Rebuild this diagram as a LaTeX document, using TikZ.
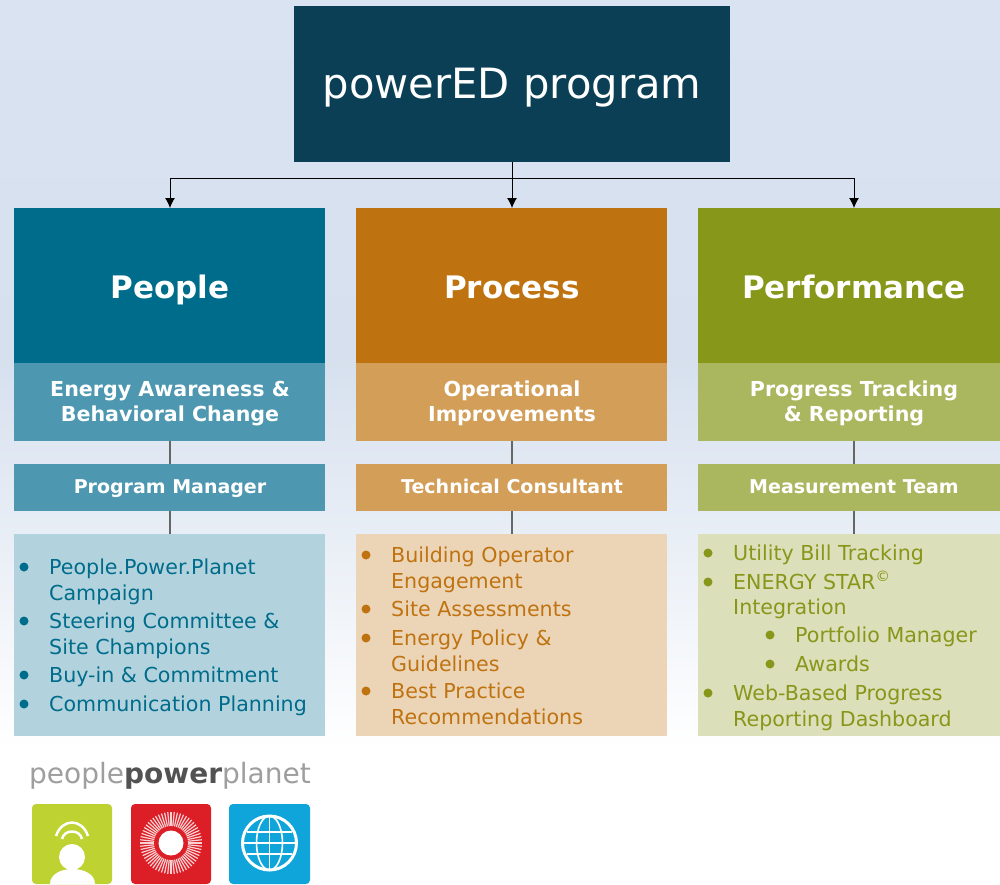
\documentclass[tikz,border=0pt]{standalone}
\usepackage{fontspec}
\setmainfont{DejaVu Sans}
\usetikzlibrary{arrows.meta,calc}
\definecolor{navy}{HTML}{0A3F55}
\definecolor{tealA}{HTML}{006C8B}
\definecolor{tealB}{HTML}{4D98B0}
\definecolor{tealC}{HTML}{B2D3DD}
\definecolor{orgA}{HTML}{BF7310}
\definecolor{orgB}{HTML}{D29E58}
\definecolor{orgC}{HTML}{ECD5B7}
\definecolor{grnA}{HTML}{879719}
\definecolor{grnB}{HTML}{ABB75E}
\definecolor{grnC}{HTML}{DBDFBA}
\definecolor{bgtop}{HTML}{D9E3F1}
\definecolor{bgmid}{HTML}{D6E0EE}
\definecolor{logogrn}{HTML}{BED232}
\definecolor{logored}{HTML}{DC1F26}
\definecolor{logoblu}{HTML}{10A5DA}
\pgfdeclareverticalshading{bgshade}{100bp}{color(0bp)=(white); color(25bp)=(white); color(32.6bp)=(white); color(54.9bp)=(bgmid); color(75bp)=(bgtop); color(100bp)=(bgtop)}
\tikzset{
  x=1pt,y=-1pt,
  box/.style={rectangle,inner sep=0pt,outer sep=0pt,minimum width=311pt,anchor=north west},
  head/.style={box,minimum height=155pt},
  headtxt/.style={anchor=base,text=white,font=\fontsize{31}{38}\selectfont\bfseries},
  sub/.style={box,minimum height=78pt},
  subtxt/.style={anchor=base,text=white,align=center,font=\fontsize{20.6}{25}\selectfont\bfseries},
  role/.style={box,minimum height=47pt},
  roletxt/.style={anchor=base,text=white,font=\fontsize{19}{23}\selectfont\bfseries},
  list/.style={box,minimum height=202pt},
  li/.style={anchor=base west,inner sep=0pt,font=\fontsize{20.6}{25}\selectfont},
  dot/.style={circle,inner sep=0pt,minimum size=9pt},
  conn/.style={draw=black,line width=1pt},
  arr/.style={conn,-{Latex[length=10pt,width=10pt]}},
  tie/.style={draw=black!60,line width=1.2pt},
}
\newcommand{\bitem}[6]{% name, colour, dot x, text x, baseline, text
  \node[dot,fill=#2] (#1d) at (#3,#5-7) {};
  \node[li,text=#2] (#1) at (#4,#5) {#6};
}
\newcommand{\cont}[5]{\node[li,text=#2] (#1) at (#3,#4) {#5};}
\begin{document}
\begin{tikzpicture}
\useasboundingbox (0,0) rectangle (1000,884);
\shade[shading=bgshade] (0,0) rectangle (1000,884);
\node[box,fill=navy,minimum width=436pt,minimum height=156pt] (top) at (294,6) {};
\node[anchor=base,text=white,font=\fontsize{41.7}{50}\selectfont] (topt) at (512,98) {powerED program};
% heads
\node[head,fill=tealA] (h1) at (14,208) {};
\node[head,fill=orgA] (h2) at (356,208) {};
\node[head,fill=grnA,minimum width=302pt] (h3) at (698,208) {};
\node[headtxt] (h1t) at (170,298) {People};
\node[headtxt] (h2t) at (512,298) {Process};
\node[headtxt] (h3t) at (854,298) {Performance};
% subs
\node[sub,fill=tealB] (s1) at (14,363) {};
\node[sub,fill=orgB] (s2) at (356,363) {};
\node[sub,fill=grnB,minimum width=302pt] (s3) at (698,363) {};
\node[subtxt] (s1t) at (170,421) {Energy Awareness \&\\Behavioral Change};
\node[subtxt] (s2t) at (512,421) {Operational\\Improvements};
\node[subtxt] (s3t) at (854,421) {Progress Tracking\\\&~Reporting};
% roles
\node[role,fill=tealB] (r1) at (14,464) {};
\node[role,fill=orgB] (r2) at (356,464) {};
\node[role,fill=grnB,minimum width=302pt] (r3) at (698,464) {};
\node[roletxt] (r1t) at (170,493) {Program Manager};
\node[roletxt] (r2t) at (512,493) {Technical Consultant};
\node[roletxt] (r3t) at (854,493) {Measurement Team};
% lists
\node[list,fill=tealC] (l1) at (14,534) {};
\node[list,fill=orgC] (l2) at (356,534) {};
\node[list,fill=grnC,minimum width=302pt] (l3) at (698,534) {};
% connectors
\coordinate (bus) at (512,178);
\draw[conn] (top.south -| h2t.center) -- (bus);
\draw[arr] (bus) -- (h2t.center |- h2.north);
\draw[arr] (bus) -| (h1t.center |- h1.north);
\draw[arr] (bus) -| (h3t.center |- h3.north);
\draw[tie] (h1t.center |- s1.south) -- (h1t.center |- r1.north);
\draw[tie] (h1t.center |- r1.south) -- (h1t.center |- l1.north);
\draw[tie] (h2t.center |- s2.south) -- (h2t.center |- r2.north);
\draw[tie] (h2t.center |- r2.south) -- (h2t.center |- l2.north);
\draw[tie] (h3t.center |- s3.south) -- (h3t.center |- r3.north);
\draw[tie] (h3t.center |- r3.south) -- (h3t.center |- l3.north);
% list 1
\bitem{a1}{tealA}{24}{49}{574}{People.Power.Planet}
\cont{a1b}{tealA}{49}{600}{Campaign}
\bitem{a2}{tealA}{24}{49}{628}{Steering Committee \&}
\cont{a2b}{tealA}{49}{654}{Site Champions}
\bitem{a3}{tealA}{24}{49}{682}{Buy-in \& Commitment}
\bitem{a4}{tealA}{24}{49}{711}{Communication Planning}
% list 2
\bitem{b1}{orgA}{366}{391}{562}{Building Operator}
\cont{b1b}{orgA}{391}{588}{Engagement}
\bitem{b2}{orgA}{366}{391}{616}{Site Assessments}
\bitem{b3}{orgA}{366}{391}{645}{Energy Policy \&}
\cont{b3b}{orgA}{391}{671}{Guidelines}
\bitem{b4}{orgA}{366}{391}{698}{Best Practice}
\cont{b4b}{orgA}{391}{724}{Recommendations}
% list 3
\bitem{c1}{grnA}{708}{733}{560}{Utility Bill Tracking}
\bitem{c2}{grnA}{708}{733}{589}{ENERGY STAR\textsuperscript{©}}
\cont{c2b}{grnA}{733}{614}{Integration}
\bitem{c3}{grnA}{770}{795}{642}{Portfolio Manager}
\bitem{c4}{grnA}{770}{795}{671}{Awards}
\bitem{c5}{grnA}{708}{733}{700}{Web-Based Progress}
\cont{c5b}{grnA}{733}{726}{Reporting Dashboard}
% logo
\node[anchor=base west,inner sep=0pt,text=black!38,font=\fontsize{28}{34}\selectfont] (wm) at (29,783) {people\textcolor{black!68}{\bfseries power}planet};
\fill[logogrn,rounded corners=4pt] (32,804) rectangle (112,884);
\fill[white] (72,857) circle (13);
\fill[white] (50,884) .. controls (50,864) and (95,864) .. (95,884) -- cycle;
\draw[white,line width=2.5pt] (62,839) .. controls (64,829) and (80,829) .. (82,839);
\draw[white,line width=2.5pt] (56,836) .. controls (62,818) and (82,818) .. (88,836);
\fill[logored,rounded corners=4pt] (131,804) rectangle (211,884);
\foreach \a in {0,6,...,354}{\draw[white!80!logored,line width=1.2pt] ($(171,843)+(\a:17)$) -- ($(171,843)+(\a:31)$);}
\fill[white] (171,843) circle (12.5);
\fill[logoblu,rounded corners=4pt] (229,804) rectangle (310,884);
\draw[white,line width=3pt] (269.5,843) circle (27);
\draw[white,line width=1.6pt] (269.5,843) ellipse (13 and 27);
\draw[white,line width=1.8pt] (243,843) -- (296,843) (269.5,816) -- (269.5,870);
\draw[white,line width=1.4pt] (247,832) -- (292,832) (247,854) -- (292,854);
\end{tikzpicture}
\end{document}
